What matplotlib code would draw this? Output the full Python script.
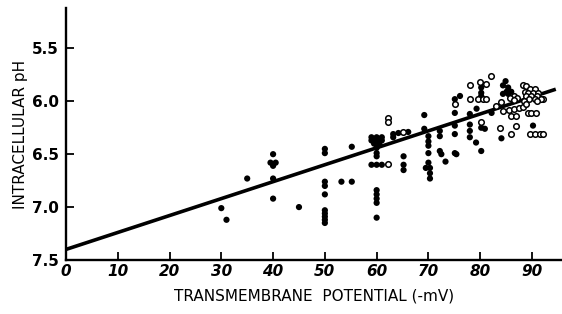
import numpy as np
import matplotlib.pyplot as plt

# filled dots (potential in -mV, intracellular pH)
filled_x = [30, 31, 35,
            40, 39.5, 40.5, 40, 40, 40,
            45,
            50, 50, 50, 50, 50, 50, 50, 50, 50, 50,
            53.2, 55.2, 55.2,
            59, 60, 61, 59, 60, 61, 59.5, 60.5,
            60, 60, 60, 59, 60, 61,
            60, 60, 60, 60, 60,
            63.2, 63.2, 64.2, 66.1,
            65.2, 65.2, 65.2,
            69.2, 69.2,
            70, 70, 70, 70, 70, 69.5, 70.3, 70.3, 70.3,
            72.2, 72.2, 72.2, 72.5, 73.3,
            75.1, 76.1, 75.1, 75.1, 75.1, 75.1, 75.4,
            78, 78, 78, 78, 79.2, 80.2, 79.3,
            80.2, 80.2, 80.2, 80.2, 80.9,
            82.2, 84.1, 90.2,
            84.9, 84.4, 85.4, 85.1, 86.0, 84.4, 85.4]
filled_y = [7.01, 7.12, 6.73,
            6.50, 6.58, 6.58, 6.61, 6.73, 6.92,
            7.00,
            6.45, 6.49, 6.76, 6.80, 6.88, 7.03, 7.06, 7.09, 7.12, 7.15,
            6.76, 6.76, 6.43,
            6.34, 6.34, 6.34, 6.37, 6.37, 6.37, 6.40, 6.40,
            6.44, 6.49, 6.52, 6.60, 6.60, 6.60,
            6.84, 6.88, 6.92, 6.96, 7.10,
            6.31, 6.34, 6.30, 6.29,
            6.52, 6.60, 6.65,
            6.13, 6.26,
            6.33, 6.38, 6.42, 6.49, 6.58, 6.63, 6.63, 6.68, 6.73,
            6.28, 6.33, 6.47, 6.50, 6.57,
            5.98, 5.95, 6.11, 6.23, 6.31, 6.49, 6.50,
            6.12, 6.22, 6.28, 6.34, 6.39, 6.47, 6.07,
            5.87, 5.92, 5.95, 6.25, 6.26,
            6.11, 6.35, 6.23,
            5.81, 5.85, 5.87, 5.91, 5.91, 5.93, 5.93]

# open circles
open_x = [62.2, 62.2, 62.2, 65.1,
          75.1, 78, 78, 79.9, 81.1, 79.5, 80.5, 81.2, 80.2,
          82, 83.1, 84.1, 83.9, 86, 87,
          89.6, 90.5, 91.5, 92.1,
          89.2, 89.9, 90.7, 92.1,
          88.3, 88.9, 89.6, 90.5, 88.6, 89.2, 90.2, 91.2, 88.8, 89.9, 90.9,
          89.5, 90.5, 91.8, 88.5, 91,
          84.4, 85.5, 86.5, 87.5, 88.2, 88.8,
          86, 87,
          86.5, 85.8, 87.2, 86.5]
open_y = [6.16, 6.20, 6.59, 6.29,
          6.03, 5.85, 5.98, 5.82, 5.84, 5.98, 5.98, 5.98, 6.20,
          5.76, 6.04, 6.01, 6.25, 6.31, 6.23,
          6.31, 6.31, 6.31, 6.31,
          6.11, 6.11, 6.11, 5.98,
          5.85, 5.86, 5.88, 5.88, 5.91, 5.92, 5.92, 5.92, 5.95, 5.95, 5.95,
          5.98, 5.98, 5.98, 6.00, 6.00,
          6.09, 6.08, 6.07, 6.06, 6.05, 6.03,
          6.14, 6.14,
          5.95, 5.97, 5.97, 5.99]

# regression line
fit_x = [0, 94.6]
fit_y = [7.40, 5.886]

fig = plt.figure(figsize=(5.62, 3.14), dpi=100)
ax = fig.add_axes([0.1174, 0.172, 0.8826, 0.802])

ax.plot(fit_x, fit_y, color='black', lw=2.6, solid_capstyle='butt', zorder=3)
ax.scatter(filled_x, filled_y, s=20, color='black', edgecolors='none', zorder=4)
ax.scatter(open_x, open_y, s=16, facecolors='white', edgecolors='black',
           linewidths=1.1, zorder=4)

ax.set_xlim(0, 95.8)
ax.set_ylim(7.5, 5.12)

for side in ['top', 'right']:
    ax.spines[side].set_visible(False)
for side in ['left', 'bottom']:
    ax.spines[side].set_linewidth(1.7)

ax.set_xticks(np.arange(0, 100, 10))
ax.set_yticks([5.5, 6.0, 6.5, 7.0, 7.5])
ax.set_yticklabels(['5.5', '6.0', '6.5', '7.0', '7.5'])
ax.tick_params(axis='both', direction='in', length=6, width=1.3,
               labelsize=11)
ax.tick_params(axis='x', pad=3)
ax.tick_params(axis='y', pad=5)
for lab in ax.get_xticklabels():
    lab.set_fontstyle('italic')
    lab.set_fontweight('bold')
for lab in ax.get_yticklabels():
    lab.set_fontweight('bold')

ax.set_xlabel('TRANSMEMBRANE  POTENTIAL (-mV)', fontsize=11, labelpad=7)
ax.set_ylabel('INTRACELLULAR pH', fontsize=11, labelpad=3)

fig.savefig('out.png', dpi=100)
